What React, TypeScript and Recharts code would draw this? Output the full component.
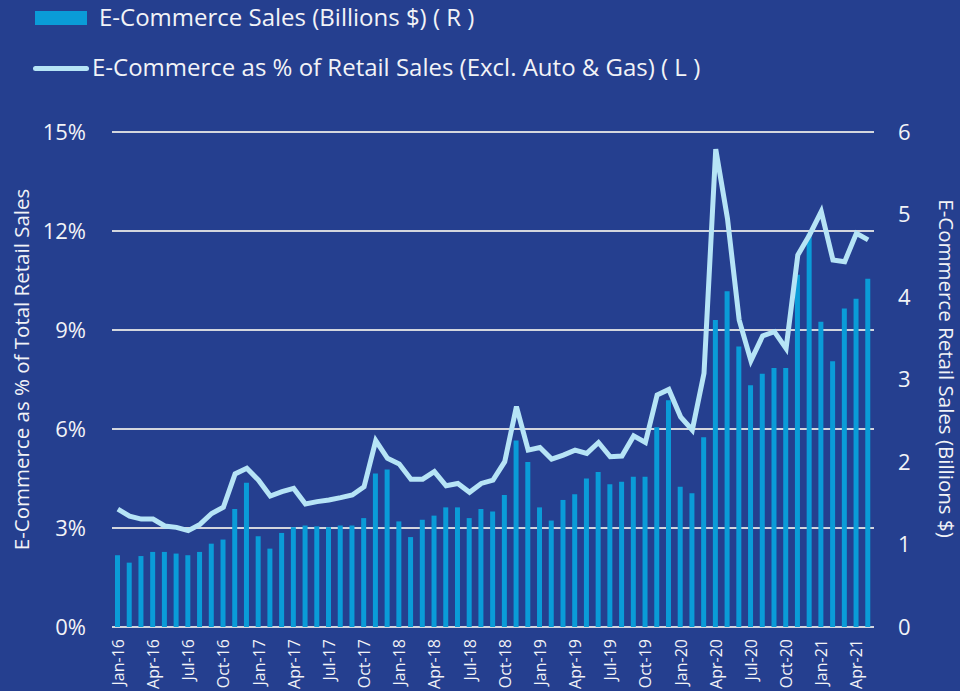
import React from "react";
import { ComposedChart, Bar, Line, XAxis, YAxis, CartesianGrid } from "recharts";

const months = [
  "Jan-16","Feb-16","Mar-16","Apr-16","May-16","Jun-16","Jul-16","Aug-16","Sep-16","Oct-16","Nov-16","Dec-16",
  "Jan-17","Feb-17","Mar-17","Apr-17","May-17","Jun-17","Jul-17","Aug-17","Sep-17","Oct-17","Nov-17","Dec-17",
  "Jan-18","Feb-18","Mar-18","Apr-18","May-18","Jun-18","Jul-18","Aug-18","Sep-18","Oct-18","Nov-18","Dec-18",
  "Jan-19","Feb-19","Mar-19","Apr-19","May-19","Jun-19","Jul-19","Aug-19","Sep-19","Oct-19","Nov-19","Dec-19",
  "Jan-20","Feb-20","Mar-20","Apr-20","May-20","Jun-20","Jul-20","Aug-20","Sep-20","Oct-20","Nov-20","Dec-20",
  "Jan-21","Feb-21","Mar-21","Apr-21","May-21",
];

const salesBillions = [
  0.87, 0.78, 0.86, 0.91, 0.91, 0.89, 0.87, 0.91, 1.01, 1.06, 1.43, 1.75,
  1.10, 0.95, 1.14, 1.21, 1.23, 1.22, 1.21, 1.23, 1.23, 1.32, 1.86, 1.91,
  1.28, 1.09, 1.30, 1.35, 1.45, 1.45, 1.32, 1.43, 1.40, 1.60, 2.26, 2.00,
  1.45, 1.29, 1.54, 1.61, 1.80, 1.88, 1.73, 1.76, 1.82, 1.82, 2.42, 2.75,
  1.70, 1.62, 2.30, 3.72, 4.07, 3.40, 2.93, 3.07, 3.14, 3.14, 4.27, 4.77,
  3.70, 3.22, 3.86, 3.98, 4.22,
];

const pctOfRetail = [
  3.57, 3.36, 3.27, 3.27, 3.06, 3.02, 2.92, 3.11, 3.44, 3.63, 4.64, 4.81,
  4.45, 3.97, 4.10, 4.20, 3.73, 3.80, 3.85, 3.92, 4.00, 4.25, 5.65, 5.11,
  4.94, 4.48, 4.48, 4.71, 4.28, 4.35, 4.08, 4.35, 4.45, 5.01, 6.68, 5.36,
  5.44, 5.09, 5.21, 5.36, 5.26, 5.59, 5.16, 5.18, 5.79, 5.59, 7.03, 7.20,
  6.37, 5.97, 7.69, 14.48, 12.38, 9.30, 8.07, 8.82, 8.95, 8.44, 11.27, 11.88,
  12.59, 11.12, 11.07, 11.93, 11.73,
];

const leftTicks = [0, 3, 6, 9, 12, 15];
const rightTicks = [0, 1, 2, 3, 4, 5, 6];

const barLabel = "E-Commerce Sales (Billions $) ( R )";
const lineLabel = "E-Commerce as % of Retail Sales (Excl. Auto & Gas) ( L )";
const leftTitle = "E-Commerce as % of Total Retail Sales";
const rightTitle = "E-Commerce Retail Sales (Billions $)";

const data = months.map((m, i) => ({ month: m, sales: salesBillions[i], pct: pctOfRetail[i] }));

const BG = "#253f8f";
const BAR = "#0a9cd8";
const LINE = "#b6e4f6";
const TEXT = "#f2f3f7";
const FONT = "'Open Sans', sans-serif";

const XTick = (props: any) => {
  const { x, y, payload } = props;
  return (
    <text
      x={x}
      y={y}
      transform={`rotate(-90 ${x} ${y})`}
      textAnchor="end"
      dominantBaseline="central"
      fill={TEXT}
      fontSize={16}
      fontFamily={FONT}
    >
      {payload.value}
    </text>
  );
};

const LeftTitle = (props: any) => {
  const vb = props.viewBox;
  const x = vb.x + 21;
  const y = vb.y + vb.height / 2 - 10;
  return (
    <text x={x} y={y} transform={`rotate(-90 ${x} ${y})`} textAnchor="middle" dominantBaseline="central" fill={TEXT} fontSize={20.5} fontFamily={FONT}>
      {leftTitle}
    </text>
  );
};

const RightTitle = (props: any) => {
  const vb = props.viewBox;
  const x = vb.x + 73;
  const y = vb.y + vb.height / 2 - 11;
  return (
    <text x={x} y={y} transform={`rotate(90 ${x} ${y})`} textAnchor="middle" dominantBaseline="central" fill={TEXT} fontSize={20.5} fontFamily={FONT}>
      {rightTitle}
    </text>
  );
};

export default function App() {
  return (
    <div style={{ position: "absolute", left: 0, top: 0, width: 960, height: 691, background: BG, overflow: "hidden", fontFamily: FONT }}>
      <div style={{ position: "absolute", left: 35, top: 11, width: 52, height: 14, background: BAR }} />
      <div style={{ position: "absolute", left: 99, top: 2, fontSize: 24, lineHeight: "30px", color: TEXT, whiteSpace: "nowrap" }}>{barLabel}</div>
      <div style={{ position: "absolute", left: 33, top: 66, width: 56, height: 5, borderRadius: 3, background: LINE }} />
      <div style={{ position: "absolute", left: 92, top: 52, fontSize: 24, lineHeight: "30px", color: TEXT, whiteSpace: "nowrap" }}>{lineLabel}</div>
      <div style={{ position: "absolute", left: 0, top: 0 }}>
        <ComposedChart width={960} height={691} data={data} margin={{ top: 132, right: 0, bottom: 0, left: 0 }}>
          <CartesianGrid yAxisId="left" vertical={false} stroke="#d3d6de" strokeWidth={2} />
          <XAxis
            dataKey="month"
            interval={2}
            tick={<XTick />}
            tickLine={false}
            axisLine={false}
            tickSize={0}
            tickMargin={12}
            height={64}
          />
          <YAxis
            yAxisId="left"
            orientation="left"
            domain={[0, 15]}
            ticks={leftTicks}
            tickFormatter={(v: number) => `${v}%`}
            width={112}
            tickLine={false}
            axisLine={false}
            tickSize={0}
            tickMargin={26}
            tick={{ fill: TEXT, fontSize: 22, fontFamily: FONT }}
            label={{ content: <LeftTitle /> }}
          />
          <YAxis
            yAxisId="right"
            orientation="right"
            domain={[0, 6]}
            ticks={rightTicks}
            width={86}
            tickLine={false}
            axisLine={false}
            tickSize={0}
            tickMargin={24}
            tick={{ fill: TEXT, fontSize: 22, fontFamily: FONT, textAnchor: "start" }}
            label={{ content: <RightTitle /> }}
          />
          <Bar yAxisId="right" dataKey="sales" fill={BAR} barSize={5} isAnimationActive={false} />
          <Line yAxisId="left" dataKey="pct" type="linear" stroke={LINE} strokeWidth={5} dot={false} isAnimationActive={false} />
        </ComposedChart>
      </div>
    </div>
  );
}
